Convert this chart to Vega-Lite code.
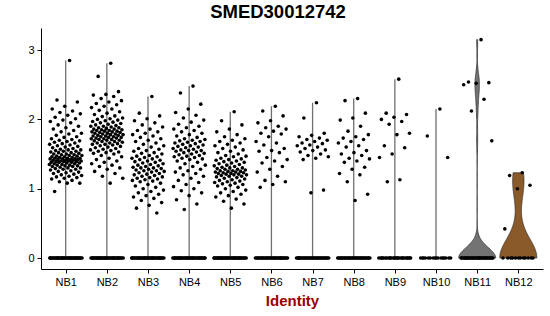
{
"$schema": "https://vega.github.io/schema/vega-lite/v6.json",
"width": 502, "height": 241,
"autosize": {"type": "none"},
"padding": {"left": 41, "top": 28, "right": 7, "bottom": 47},
"background": "white",
"title": {"text": "SMED30012742", "font": "Liberation Sans", "fontSize": 18.5, "fontWeight": "bold", "color": "black", "anchor": "middle", "dx": -14, "offset": 7},
"datasets": {"cells": [
{"g":"NB1","v":2.85},{"g":"NB1","v":2.28},{"g":"NB1","v":2.25},{"g":"NB1","v":2.19},{"g":"NB1","v":2.15},{"g":"NB1","v":2.12},{"g":"NB1","v":2.10},{"g":"NB1","v":2.08},{"g":"NB1","v":2.06},{"g":"NB1","v":2.03},{"g":"NB1","v":2.01},{"g":"NB1","v":1.99},{"g":"NB1","v":1.97},{"g":"NB1","v":1.95},{"g":"NB1","v":1.92},{"g":"NB1","v":1.90},{"g":"NB1","v":1.88},{"g":"NB1","v":1.86},{"g":"NB1","v":1.84},{"g":"NB1","v":1.82},{"g":"NB1","v":1.80},{"g":"NB1","v":1.79},{"g":"NB1","v":1.77},{"g":"NB1","v":1.75},{"g":"NB1","v":1.74},{"g":"NB1","v":1.72},{"g":"NB1","v":1.71},{"g":"NB1","v":1.70},{"g":"NB1","v":1.69},{"g":"NB1","v":1.68},{"g":"NB1","v":1.67},{"g":"NB1","v":1.66},{"g":"NB1","v":1.65},{"g":"NB1","v":1.64},{"g":"NB1","v":1.63},{"g":"NB1","v":1.62},{"g":"NB1","v":1.61},{"g":"NB1","v":1.60},{"g":"NB1","v":1.59},{"g":"NB1","v":1.58},{"g":"NB1","v":1.57},{"g":"NB1","v":1.56},{"g":"NB1","v":1.56},{"g":"NB1","v":1.55},{"g":"NB1","v":1.54},{"g":"NB1","v":1.54},{"g":"NB1","v":1.53},{"g":"NB1","v":1.52},{"g":"NB1","v":1.52},{"g":"NB1","v":1.51},{"g":"NB1","v":1.50},{"g":"NB1","v":1.50},{"g":"NB1","v":1.49},{"g":"NB1","v":1.49},{"g":"NB1","v":1.48},{"g":"NB1","v":1.48},{"g":"NB1","v":1.47},{"g":"NB1","v":1.47},{"g":"NB1","v":1.46},{"g":"NB1","v":1.46},{"g":"NB1","v":1.45},{"g":"NB1","v":1.45},{"g":"NB1","v":1.44},{"g":"NB1","v":1.44},{"g":"NB1","v":1.44},{"g":"NB1","v":1.43},{"g":"NB1","v":1.43},{"g":"NB1","v":1.43},{"g":"NB1","v":1.42},{"g":"NB1","v":1.42},{"g":"NB1","v":1.42},{"g":"NB1","v":1.41},{"g":"NB1","v":1.41},{"g":"NB1","v":1.41},{"g":"NB1","v":1.40},{"g":"NB1","v":1.40},{"g":"NB1","v":1.40},{"g":"NB1","v":1.39},{"g":"NB1","v":1.39},{"g":"NB1","v":1.39},{"g":"NB1","v":1.38},{"g":"NB1","v":1.38},{"g":"NB1","v":1.38},{"g":"NB1","v":1.37},{"g":"NB1","v":1.37},{"g":"NB1","v":1.36},{"g":"NB1","v":1.36},{"g":"NB1","v":1.35},{"g":"NB1","v":1.35},{"g":"NB1","v":1.34},{"g":"NB1","v":1.34},{"g":"NB1","v":1.33},{"g":"NB1","v":1.33},{"g":"NB1","v":1.32},{"g":"NB1","v":1.32},{"g":"NB1","v":1.31},{"g":"NB1","v":1.30},{"g":"NB1","v":1.30},{"g":"NB1","v":1.29},{"g":"NB1","v":1.28},{"g":"NB1","v":1.28},{"g":"NB1","v":1.27},{"g":"NB1","v":1.26},{"g":"NB1","v":1.25},{"g":"NB1","v":1.24},{"g":"NB1","v":1.23},{"g":"NB1","v":1.22},{"g":"NB1","v":1.21},{"g":"NB1","v":1.20},{"g":"NB1","v":1.19},{"g":"NB1","v":1.18},{"g":"NB1","v":1.17},{"g":"NB1","v":1.16},{"g":"NB1","v":1.15},{"g":"NB1","v":1.14},{"g":"NB1","v":1.12},{"g":"NB1","v":1.10},{"g":"NB1","v":1.08},{"g":"NB1","v":1.08},{"g":"NB1","v":0.96},
{"g":"NB1","v":0},{"g":"NB1","v":0},{"g":"NB1","v":0},{"g":"NB1","v":0},{"g":"NB1","v":0},{"g":"NB1","v":0},{"g":"NB1","v":0},{"g":"NB1","v":0},{"g":"NB1","v":0},{"g":"NB1","v":0},{"g":"NB1","v":0},{"g":"NB1","v":0},{"g":"NB1","v":0},{"g":"NB1","v":0},{"g":"NB1","v":0},{"g":"NB1","v":0},{"g":"NB1","v":0},{"g":"NB1","v":0},{"g":"NB1","v":0},{"g":"NB1","v":0},{"g":"NB1","v":0},{"g":"NB1","v":0},{"g":"NB1","v":0},{"g":"NB1","v":0},{"g":"NB1","v":0},{"g":"NB1","v":0},{"g":"NB1","v":0},{"g":"NB1","v":0},{"g":"NB1","v":0},{"g":"NB1","v":0},{"g":"NB1","v":0},{"g":"NB1","v":0},{"g":"NB1","v":0},{"g":"NB1","v":0},{"g":"NB1","v":0},{"g":"NB1","v":0},{"g":"NB1","v":0},{"g":"NB1","v":0},{"g":"NB1","v":0},{"g":"NB1","v":0},
{"g":"NB2","v":2.81},{"g":"NB2","v":2.62},{"g":"NB2","v":2.40},{"g":"NB2","v":2.36},{"g":"NB2","v":2.35},{"g":"NB2","v":2.33},{"g":"NB2","v":2.30},{"g":"NB2","v":2.27},{"g":"NB2","v":2.25},{"g":"NB2","v":2.23},{"g":"NB2","v":2.21},{"g":"NB2","v":2.19},{"g":"NB2","v":2.17},{"g":"NB2","v":2.15},{"g":"NB2","v":2.13},{"g":"NB2","v":2.11},{"g":"NB2","v":2.09},{"g":"NB2","v":2.07},{"g":"NB2","v":2.05},{"g":"NB2","v":2.04},{"g":"NB2","v":2.02},{"g":"NB2","v":2.01},{"g":"NB2","v":2.00},{"g":"NB2","v":1.99},{"g":"NB2","v":1.98},{"g":"NB2","v":1.97},{"g":"NB2","v":1.96},{"g":"NB2","v":1.95},{"g":"NB2","v":1.94},{"g":"NB2","v":1.93},{"g":"NB2","v":1.92},{"g":"NB2","v":1.91},{"g":"NB2","v":1.90},{"g":"NB2","v":1.90},{"g":"NB2","v":1.89},{"g":"NB2","v":1.88},{"g":"NB2","v":1.88},{"g":"NB2","v":1.87},{"g":"NB2","v":1.86},{"g":"NB2","v":1.86},{"g":"NB2","v":1.85},{"g":"NB2","v":1.85},{"g":"NB2","v":1.84},{"g":"NB2","v":1.84},{"g":"NB2","v":1.83},{"g":"NB2","v":1.83},{"g":"NB2","v":1.82},{"g":"NB2","v":1.82},{"g":"NB2","v":1.81},{"g":"NB2","v":1.81},{"g":"NB2","v":1.80},{"g":"NB2","v":1.80},{"g":"NB2","v":1.79},{"g":"NB2","v":1.79},{"g":"NB2","v":1.78},{"g":"NB2","v":1.78},{"g":"NB2","v":1.77},{"g":"NB2","v":1.77},{"g":"NB2","v":1.76},{"g":"NB2","v":1.76},{"g":"NB2","v":1.75},{"g":"NB2","v":1.75},{"g":"NB2","v":1.74},{"g":"NB2","v":1.74},{"g":"NB2","v":1.73},{"g":"NB2","v":1.73},{"g":"NB2","v":1.72},{"g":"NB2","v":1.72},{"g":"NB2","v":1.71},{"g":"NB2","v":1.71},{"g":"NB2","v":1.70},{"g":"NB2","v":1.70},{"g":"NB2","v":1.69},{"g":"NB2","v":1.68},{"g":"NB2","v":1.68},{"g":"NB2","v":1.67},{"g":"NB2","v":1.66},{"g":"NB2","v":1.66},{"g":"NB2","v":1.65},{"g":"NB2","v":1.64},{"g":"NB2","v":1.64},{"g":"NB2","v":1.63},{"g":"NB2","v":1.62},{"g":"NB2","v":1.61},{"g":"NB2","v":1.60},{"g":"NB2","v":1.59},{"g":"NB2","v":1.58},{"g":"NB2","v":1.57},{"g":"NB2","v":1.56},{"g":"NB2","v":1.55},{"g":"NB2","v":1.54},{"g":"NB2","v":1.53},{"g":"NB2","v":1.52},{"g":"NB2","v":1.51},{"g":"NB2","v":1.50},{"g":"NB2","v":1.48},{"g":"NB2","v":1.46},{"g":"NB2","v":1.44},{"g":"NB2","v":1.42},{"g":"NB2","v":1.40},{"g":"NB2","v":1.38},{"g":"NB2","v":1.36},{"g":"NB2","v":1.34},{"g":"NB2","v":1.32},{"g":"NB2","v":1.30},{"g":"NB2","v":1.28},{"g":"NB2","v":1.25},{"g":"NB2","v":1.22},{"g":"NB2","v":1.18},{"g":"NB2","v":1.15},{"g":"NB2","v":1.08},
{"g":"NB2","v":0},{"g":"NB2","v":0},{"g":"NB2","v":0},{"g":"NB2","v":0},{"g":"NB2","v":0},{"g":"NB2","v":0},{"g":"NB2","v":0},{"g":"NB2","v":0},{"g":"NB2","v":0},{"g":"NB2","v":0},{"g":"NB2","v":0},{"g":"NB2","v":0},{"g":"NB2","v":0},{"g":"NB2","v":0},{"g":"NB2","v":0},{"g":"NB2","v":0},{"g":"NB2","v":0},{"g":"NB2","v":0},{"g":"NB2","v":0},{"g":"NB2","v":0},{"g":"NB2","v":0},{"g":"NB2","v":0},{"g":"NB2","v":0},{"g":"NB2","v":0},{"g":"NB2","v":0},{"g":"NB2","v":0},{"g":"NB2","v":0},{"g":"NB2","v":0},{"g":"NB2","v":0},{"g":"NB2","v":0},{"g":"NB2","v":0},{"g":"NB2","v":0},{"g":"NB2","v":0},{"g":"NB2","v":0},{"g":"NB2","v":0},{"g":"NB2","v":0},{"g":"NB2","v":0},{"g":"NB2","v":0},{"g":"NB2","v":0},{"g":"NB2","v":0},
{"g":"NB3","v":2.33},{"g":"NB3","v":2.09},{"g":"NB3","v":2.05},{"g":"NB3","v":2.01},{"g":"NB3","v":1.98},{"g":"NB3","v":1.95},{"g":"NB3","v":1.92},{"g":"NB3","v":1.89},{"g":"NB3","v":1.86},{"g":"NB3","v":1.84},{"g":"NB3","v":1.82},{"g":"NB3","v":1.80},{"g":"NB3","v":1.78},{"g":"NB3","v":1.76},{"g":"NB3","v":1.74},{"g":"NB3","v":1.72},{"g":"NB3","v":1.70},{"g":"NB3","v":1.68},{"g":"NB3","v":1.66},{"g":"NB3","v":1.64},{"g":"NB3","v":1.62},{"g":"NB3","v":1.60},{"g":"NB3","v":1.58},{"g":"NB3","v":1.57},{"g":"NB3","v":1.55},{"g":"NB3","v":1.54},{"g":"NB3","v":1.52},{"g":"NB3","v":1.51},{"g":"NB3","v":1.50},{"g":"NB3","v":1.48},{"g":"NB3","v":1.47},{"g":"NB3","v":1.46},{"g":"NB3","v":1.45},{"g":"NB3","v":1.44},{"g":"NB3","v":1.43},{"g":"NB3","v":1.42},{"g":"NB3","v":1.41},{"g":"NB3","v":1.40},{"g":"NB3","v":1.39},{"g":"NB3","v":1.38},{"g":"NB3","v":1.37},{"g":"NB3","v":1.36},{"g":"NB3","v":1.35},{"g":"NB3","v":1.34},{"g":"NB3","v":1.33},{"g":"NB3","v":1.32},{"g":"NB3","v":1.31},{"g":"NB3","v":1.30},{"g":"NB3","v":1.30},{"g":"NB3","v":1.29},{"g":"NB3","v":1.28},{"g":"NB3","v":1.27},{"g":"NB3","v":1.26},{"g":"NB3","v":1.26},{"g":"NB3","v":1.25},{"g":"NB3","v":1.24},{"g":"NB3","v":1.23},{"g":"NB3","v":1.22},{"g":"NB3","v":1.21},{"g":"NB3","v":1.20},{"g":"NB3","v":1.19},{"g":"NB3","v":1.18},{"g":"NB3","v":1.17},{"g":"NB3","v":1.16},{"g":"NB3","v":1.15},{"g":"NB3","v":1.14},{"g":"NB3","v":1.13},{"g":"NB3","v":1.12},{"g":"NB3","v":1.11},{"g":"NB3","v":1.10},{"g":"NB3","v":1.08},{"g":"NB3","v":1.06},{"g":"NB3","v":1.04},{"g":"NB3","v":1.02},{"g":"NB3","v":1.00},{"g":"NB3","v":0.98},{"g":"NB3","v":0.96},{"g":"NB3","v":0.94},{"g":"NB3","v":0.92},{"g":"NB3","v":0.90},{"g":"NB3","v":0.88},{"g":"NB3","v":0.86},{"g":"NB3","v":0.83},{"g":"NB3","v":0.80},{"g":"NB3","v":0.76},{"g":"NB3","v":0.72},{"g":"NB3","v":0.65},
{"g":"NB3","v":0},{"g":"NB3","v":0},{"g":"NB3","v":0},{"g":"NB3","v":0},{"g":"NB3","v":0},{"g":"NB3","v":0},{"g":"NB3","v":0},{"g":"NB3","v":0},{"g":"NB3","v":0},{"g":"NB3","v":0},{"g":"NB3","v":0},{"g":"NB3","v":0},{"g":"NB3","v":0},{"g":"NB3","v":0},{"g":"NB3","v":0},{"g":"NB3","v":0},{"g":"NB3","v":0},{"g":"NB3","v":0},{"g":"NB3","v":0},{"g":"NB3","v":0},{"g":"NB3","v":0},{"g":"NB3","v":0},{"g":"NB3","v":0},{"g":"NB3","v":0},{"g":"NB3","v":0},{"g":"NB3","v":0},{"g":"NB3","v":0},{"g":"NB3","v":0},{"g":"NB3","v":0},{"g":"NB3","v":0},{"g":"NB3","v":0},{"g":"NB3","v":0},{"g":"NB3","v":0},{"g":"NB3","v":0},{"g":"NB3","v":0},{"g":"NB3","v":0},{"g":"NB3","v":0},{"g":"NB3","v":0},{"g":"NB3","v":0},{"g":"NB3","v":0},
{"g":"NB4","v":2.48},{"g":"NB4","v":2.38},{"g":"NB4","v":2.22},{"g":"NB4","v":2.15},{"g":"NB4","v":2.10},{"g":"NB4","v":2.06},{"g":"NB4","v":2.02},{"g":"NB4","v":1.99},{"g":"NB4","v":1.96},{"g":"NB4","v":1.93},{"g":"NB4","v":1.90},{"g":"NB4","v":1.88},{"g":"NB4","v":1.86},{"g":"NB4","v":1.84},{"g":"NB4","v":1.82},{"g":"NB4","v":1.80},{"g":"NB4","v":1.78},{"g":"NB4","v":1.76},{"g":"NB4","v":1.74},{"g":"NB4","v":1.72},{"g":"NB4","v":1.71},{"g":"NB4","v":1.70},{"g":"NB4","v":1.69},{"g":"NB4","v":1.68},{"g":"NB4","v":1.67},{"g":"NB4","v":1.66},{"g":"NB4","v":1.65},{"g":"NB4","v":1.64},{"g":"NB4","v":1.63},{"g":"NB4","v":1.62},{"g":"NB4","v":1.61},{"g":"NB4","v":1.60},{"g":"NB4","v":1.59},{"g":"NB4","v":1.58},{"g":"NB4","v":1.57},{"g":"NB4","v":1.56},{"g":"NB4","v":1.55},{"g":"NB4","v":1.55},{"g":"NB4","v":1.54},{"g":"NB4","v":1.53},{"g":"NB4","v":1.52},{"g":"NB4","v":1.51},{"g":"NB4","v":1.50},{"g":"NB4","v":1.49},{"g":"NB4","v":1.48},{"g":"NB4","v":1.47},{"g":"NB4","v":1.46},{"g":"NB4","v":1.45},{"g":"NB4","v":1.44},{"g":"NB4","v":1.43},{"g":"NB4","v":1.42},{"g":"NB4","v":1.40},{"g":"NB4","v":1.38},{"g":"NB4","v":1.36},{"g":"NB4","v":1.34},{"g":"NB4","v":1.32},{"g":"NB4","v":1.30},{"g":"NB4","v":1.28},{"g":"NB4","v":1.26},{"g":"NB4","v":1.24},{"g":"NB4","v":1.22},{"g":"NB4","v":1.20},{"g":"NB4","v":1.18},{"g":"NB4","v":1.15},{"g":"NB4","v":1.12},{"g":"NB4","v":1.09},{"g":"NB4","v":1.06},{"g":"NB4","v":1.03},{"g":"NB4","v":1.00},{"g":"NB4","v":0.97},{"g":"NB4","v":0.94},{"g":"NB4","v":0.90},{"g":"NB4","v":0.84},{"g":"NB4","v":0.78},{"g":"NB4","v":0.70},
{"g":"NB4","v":0},{"g":"NB4","v":0},{"g":"NB4","v":0},{"g":"NB4","v":0},{"g":"NB4","v":0},{"g":"NB4","v":0},{"g":"NB4","v":0},{"g":"NB4","v":0},{"g":"NB4","v":0},{"g":"NB4","v":0},{"g":"NB4","v":0},{"g":"NB4","v":0},{"g":"NB4","v":0},{"g":"NB4","v":0},{"g":"NB4","v":0},{"g":"NB4","v":0},{"g":"NB4","v":0},{"g":"NB4","v":0},{"g":"NB4","v":0},{"g":"NB4","v":0},{"g":"NB4","v":0},{"g":"NB4","v":0},{"g":"NB4","v":0},{"g":"NB4","v":0},{"g":"NB4","v":0},{"g":"NB4","v":0},{"g":"NB4","v":0},{"g":"NB4","v":0},{"g":"NB4","v":0},{"g":"NB4","v":0},{"g":"NB4","v":0},{"g":"NB4","v":0},{"g":"NB4","v":0},{"g":"NB4","v":0},{"g":"NB4","v":0},{"g":"NB4","v":0},{"g":"NB4","v":0},{"g":"NB4","v":0},{"g":"NB4","v":0},{"g":"NB4","v":0},
{"g":"NB5","v":2.11},{"g":"NB5","v":1.98},{"g":"NB5","v":1.92},{"g":"NB5","v":1.86},{"g":"NB5","v":1.82},{"g":"NB5","v":1.78},{"g":"NB5","v":1.75},{"g":"NB5","v":1.72},{"g":"NB5","v":1.70},{"g":"NB5","v":1.68},{"g":"NB5","v":1.66},{"g":"NB5","v":1.64},{"g":"NB5","v":1.62},{"g":"NB5","v":1.60},{"g":"NB5","v":1.58},{"g":"NB5","v":1.56},{"g":"NB5","v":1.54},{"g":"NB5","v":1.52},{"g":"NB5","v":1.50},{"g":"NB5","v":1.48},{"g":"NB5","v":1.47},{"g":"NB5","v":1.46},{"g":"NB5","v":1.44},{"g":"NB5","v":1.43},{"g":"NB5","v":1.42},{"g":"NB5","v":1.41},{"g":"NB5","v":1.40},{"g":"NB5","v":1.39},{"g":"NB5","v":1.38},{"g":"NB5","v":1.37},{"g":"NB5","v":1.36},{"g":"NB5","v":1.35},{"g":"NB5","v":1.34},{"g":"NB5","v":1.33},{"g":"NB5","v":1.32},{"g":"NB5","v":1.31},{"g":"NB5","v":1.30},{"g":"NB5","v":1.30},{"g":"NB5","v":1.29},{"g":"NB5","v":1.28},{"g":"NB5","v":1.28},{"g":"NB5","v":1.27},{"g":"NB5","v":1.26},{"g":"NB5","v":1.26},{"g":"NB5","v":1.25},{"g":"NB5","v":1.25},{"g":"NB5","v":1.24},{"g":"NB5","v":1.24},{"g":"NB5","v":1.23},{"g":"NB5","v":1.23},{"g":"NB5","v":1.22},{"g":"NB5","v":1.22},{"g":"NB5","v":1.21},{"g":"NB5","v":1.21},{"g":"NB5","v":1.20},{"g":"NB5","v":1.20},{"g":"NB5","v":1.19},{"g":"NB5","v":1.18},{"g":"NB5","v":1.18},{"g":"NB5","v":1.17},{"g":"NB5","v":1.16},{"g":"NB5","v":1.15},{"g":"NB5","v":1.14},{"g":"NB5","v":1.13},{"g":"NB5","v":1.12},{"g":"NB5","v":1.11},{"g":"NB5","v":1.10},{"g":"NB5","v":1.09},{"g":"NB5","v":1.08},{"g":"NB5","v":1.07},{"g":"NB5","v":1.06},{"g":"NB5","v":1.05},{"g":"NB5","v":1.04},{"g":"NB5","v":1.02},{"g":"NB5","v":1.00},{"g":"NB5","v":0.98},{"g":"NB5","v":0.96},{"g":"NB5","v":0.94},{"g":"NB5","v":0.92},{"g":"NB5","v":0.90},{"g":"NB5","v":0.88},{"g":"NB5","v":0.85},{"g":"NB5","v":0.82},{"g":"NB5","v":0.78},{"g":"NB5","v":0.72},
{"g":"NB5","v":0},{"g":"NB5","v":0},{"g":"NB5","v":0},{"g":"NB5","v":0},{"g":"NB5","v":0},{"g":"NB5","v":0},{"g":"NB5","v":0},{"g":"NB5","v":0},{"g":"NB5","v":0},{"g":"NB5","v":0},{"g":"NB5","v":0},{"g":"NB5","v":0},{"g":"NB5","v":0},{"g":"NB5","v":0},{"g":"NB5","v":0},{"g":"NB5","v":0},{"g":"NB5","v":0},{"g":"NB5","v":0},{"g":"NB5","v":0},{"g":"NB5","v":0},{"g":"NB5","v":0},{"g":"NB5","v":0},{"g":"NB5","v":0},{"g":"NB5","v":0},{"g":"NB5","v":0},{"g":"NB5","v":0},{"g":"NB5","v":0},{"g":"NB5","v":0},{"g":"NB5","v":0},{"g":"NB5","v":0},{"g":"NB5","v":0},{"g":"NB5","v":0},{"g":"NB5","v":0},{"g":"NB5","v":0},{"g":"NB5","v":0},{"g":"NB5","v":0},{"g":"NB5","v":0},{"g":"NB5","v":0},{"g":"NB5","v":0},{"g":"NB5","v":0},
{"g":"NB6","v":2.19},{"g":"NB6","v":2.12},{"g":"NB6","v":2.05},{"g":"NB6","v":1.98},{"g":"NB6","v":1.95},{"g":"NB6","v":1.90},{"g":"NB6","v":1.88},{"g":"NB6","v":1.86},{"g":"NB6","v":1.83},{"g":"NB6","v":1.80},{"g":"NB6","v":1.79},{"g":"NB6","v":1.75},{"g":"NB6","v":1.68},{"g":"NB6","v":1.66},{"g":"NB6","v":1.63},{"g":"NB6","v":1.58},{"g":"NB6","v":1.55},{"g":"NB6","v":1.54},{"g":"NB6","v":1.52},{"g":"NB6","v":1.45},{"g":"NB6","v":1.42},{"g":"NB6","v":1.40},{"g":"NB6","v":1.37},{"g":"NB6","v":1.32},{"g":"NB6","v":1.28},{"g":"NB6","v":1.24},{"g":"NB6","v":1.18},{"g":"NB6","v":1.12},{"g":"NB6","v":1.10},{"g":"NB6","v":1.06},{"g":"NB6","v":1.02},
{"g":"NB6","v":0},{"g":"NB6","v":0},{"g":"NB6","v":0},{"g":"NB6","v":0},{"g":"NB6","v":0},{"g":"NB6","v":0},{"g":"NB6","v":0},{"g":"NB6","v":0},{"g":"NB6","v":0},{"g":"NB6","v":0},{"g":"NB6","v":0},{"g":"NB6","v":0},{"g":"NB6","v":0},{"g":"NB6","v":0},{"g":"NB6","v":0},{"g":"NB6","v":0},{"g":"NB6","v":0},{"g":"NB6","v":0},{"g":"NB6","v":0},{"g":"NB6","v":0},{"g":"NB6","v":0},{"g":"NB6","v":0},{"g":"NB6","v":0},{"g":"NB6","v":0},{"g":"NB6","v":0},{"g":"NB6","v":0},{"g":"NB6","v":0},{"g":"NB6","v":0},{"g":"NB6","v":0},{"g":"NB6","v":0},{"g":"NB6","v":0},{"g":"NB6","v":0},{"g":"NB6","v":0},{"g":"NB6","v":0},{"g":"NB6","v":0},
{"g":"NB7","v":2.24},{"g":"NB7","v":2.02},{"g":"NB7","v":1.80},{"g":"NB7","v":1.77},{"g":"NB7","v":1.75},{"g":"NB7","v":1.73},{"g":"NB7","v":1.71},{"g":"NB7","v":1.70},{"g":"NB7","v":1.68},{"g":"NB7","v":1.66},{"g":"NB7","v":1.65},{"g":"NB7","v":1.63},{"g":"NB7","v":1.62},{"g":"NB7","v":1.60},{"g":"NB7","v":1.58},{"g":"NB7","v":1.56},{"g":"NB7","v":1.55},{"g":"NB7","v":1.53},{"g":"NB7","v":1.50},{"g":"NB7","v":1.48},{"g":"NB7","v":1.46},{"g":"NB7","v":1.44},{"g":"NB7","v":1.42},{"g":"NB7","v":0.98},{"g":"NB7","v":0.94},
{"g":"NB7","v":0},{"g":"NB7","v":0},{"g":"NB7","v":0},{"g":"NB7","v":0},{"g":"NB7","v":0},{"g":"NB7","v":0},{"g":"NB7","v":0},{"g":"NB7","v":0},{"g":"NB7","v":0},{"g":"NB7","v":0},{"g":"NB7","v":0},{"g":"NB7","v":0},{"g":"NB7","v":0},{"g":"NB7","v":0},{"g":"NB7","v":0},{"g":"NB7","v":0},{"g":"NB7","v":0},{"g":"NB7","v":0},{"g":"NB7","v":0},{"g":"NB7","v":0},{"g":"NB7","v":0},{"g":"NB7","v":0},{"g":"NB7","v":0},{"g":"NB7","v":0},{"g":"NB7","v":0},{"g":"NB7","v":0},{"g":"NB7","v":0},{"g":"NB7","v":0},{"g":"NB7","v":0},{"g":"NB7","v":0},{"g":"NB7","v":0},{"g":"NB7","v":0},{"g":"NB7","v":0},{"g":"NB7","v":0},{"g":"NB7","v":0},
{"g":"NB8","v":2.30},{"g":"NB8","v":2.27},{"g":"NB8","v":2.09},{"g":"NB8","v":2.02},{"g":"NB8","v":1.99},{"g":"NB8","v":1.90},{"g":"NB8","v":1.83},{"g":"NB8","v":1.78},{"g":"NB8","v":1.75},{"g":"NB8","v":1.73},{"g":"NB8","v":1.71},{"g":"NB8","v":1.68},{"g":"NB8","v":1.66},{"g":"NB8","v":1.62},{"g":"NB8","v":1.60},{"g":"NB8","v":1.55},{"g":"NB8","v":1.52},{"g":"NB8","v":1.50},{"g":"NB8","v":1.48},{"g":"NB8","v":1.44},{"g":"NB8","v":1.43},{"g":"NB8","v":1.40},{"g":"NB8","v":1.38},{"g":"NB8","v":1.31},{"g":"NB8","v":1.28},{"g":"NB8","v":1.22},{"g":"NB8","v":1.20},{"g":"NB8","v":1.10},{"g":"NB8","v":0.92},{"g":"NB8","v":0.83},
{"g":"NB8","v":0},{"g":"NB8","v":0},{"g":"NB8","v":0},{"g":"NB8","v":0},{"g":"NB8","v":0},{"g":"NB8","v":0},{"g":"NB8","v":0},{"g":"NB8","v":0},{"g":"NB8","v":0},{"g":"NB8","v":0},{"g":"NB8","v":0},{"g":"NB8","v":0},{"g":"NB8","v":0},{"g":"NB8","v":0},{"g":"NB8","v":0},{"g":"NB8","v":0},{"g":"NB8","v":0},{"g":"NB8","v":0},{"g":"NB8","v":0},{"g":"NB8","v":0},{"g":"NB8","v":0},{"g":"NB8","v":0},{"g":"NB8","v":0},{"g":"NB8","v":0},{"g":"NB8","v":0},{"g":"NB8","v":0},{"g":"NB8","v":0},{"g":"NB8","v":0},{"g":"NB8","v":0},{"g":"NB8","v":0},{"g":"NB8","v":0},{"g":"NB8","v":0},{"g":"NB8","v":0},{"g":"NB8","v":0},
{"g":"NB9","v":2.58},{"g":"NB9","v":2.09},{"g":"NB9","v":2.07},{"g":"NB9","v":2.03},{"g":"NB9","v":2.00},{"g":"NB9","v":1.97},{"g":"NB9","v":1.93},{"g":"NB9","v":1.80},{"g":"NB9","v":1.78},{"g":"NB9","v":1.62},{"g":"NB9","v":1.59},{"g":"NB9","v":1.50},{"g":"NB9","v":1.45},{"g":"NB9","v":1.13},{"g":"NB9","v":1.10},
{"g":"NB9","v":0},{"g":"NB9","v":0},{"g":"NB9","v":0},{"g":"NB9","v":0},{"g":"NB9","v":0},{"g":"NB9","v":0},{"g":"NB9","v":0},{"g":"NB9","v":0},{"g":"NB9","v":0},{"g":"NB9","v":0},{"g":"NB9","v":0},{"g":"NB9","v":0},{"g":"NB9","v":0},{"g":"NB9","v":0},{"g":"NB9","v":0},{"g":"NB9","v":0},{"g":"NB9","v":0},{"g":"NB9","v":0},{"g":"NB9","v":0},{"g":"NB9","v":0},{"g":"NB9","v":0},{"g":"NB9","v":0},{"g":"NB9","v":0},{"g":"NB9","v":0},{"g":"NB9","v":0},{"g":"NB9","v":0},{"g":"NB9","v":0},{"g":"NB9","v":0},
{"g":"NB10","v":2.15},{"g":"NB10","v":1.76},{"g":"NB10","v":1.45},
{"g":"NB10","v":0},{"g":"NB10","v":0},{"g":"NB10","v":0},{"g":"NB10","v":0},{"g":"NB10","v":0},{"g":"NB10","v":0},{"g":"NB10","v":0},{"g":"NB10","v":0},{"g":"NB10","v":0},{"g":"NB10","v":0},{"g":"NB10","v":0},{"g":"NB10","v":0},{"g":"NB10","v":0},{"g":"NB10","v":0},{"g":"NB10","v":0},{"g":"NB10","v":0},
{"g":"NB11","v":3.15},{"g":"NB11","v":2.54},{"g":"NB11","v":2.53},{"g":"NB11","v":2.52},{"g":"NB11","v":2.50},{"g":"NB11","v":2.29},{"g":"NB11","v":2.12},{"g":"NB11","v":1.69},
{"g":"NB11","v":0},{"g":"NB11","v":0},{"g":"NB11","v":0},{"g":"NB11","v":0},{"g":"NB11","v":0},{"g":"NB11","v":0},{"g":"NB11","v":0},{"g":"NB11","v":0},{"g":"NB11","v":0},{"g":"NB11","v":0},{"g":"NB11","v":0},{"g":"NB11","v":0},{"g":"NB11","v":0},{"g":"NB11","v":0},{"g":"NB11","v":0},{"g":"NB11","v":0},{"g":"NB11","v":0},{"g":"NB11","v":0},{"g":"NB11","v":0},{"g":"NB11","v":0},{"g":"NB11","v":0},{"g":"NB11","v":0},{"g":"NB11","v":0},{"g":"NB11","v":0},{"g":"NB11","v":0},{"g":"NB11","v":0},{"g":"NB11","v":0},{"g":"NB11","v":0},{"g":"NB11","v":0},{"g":"NB11","v":0},{"g":"NB11","v":0},{"g":"NB11","v":0},{"g":"NB11","v":0},{"g":"NB11","v":0},{"g":"NB11","v":0},{"g":"NB11","v":0},
{"g":"NB12","v":1.23},{"g":"NB12","v":1.19},{"g":"NB12","v":1.05},{"g":"NB12","v":1.00},{"g":"NB12","v":0.42},
{"g":"NB12","v":0},{"g":"NB12","v":0},{"g":"NB12","v":0},{"g":"NB12","v":0},{"g":"NB12","v":0},{"g":"NB12","v":0},{"g":"NB12","v":0},{"g":"NB12","v":0},{"g":"NB12","v":0},{"g":"NB12","v":0},{"g":"NB12","v":0},{"g":"NB12","v":0}
]},
"data": {"name": "cells"},
"transform": [{"calculate": "toNumber(slice(datum.g, 2))", "as": "idx"}],
"encoding": {
  "y": {"type": "quantitative", "scale": {"domain": [-0.158, 3.318], "nice": false, "zero": false}, "axis": {"title": null, "values": [0, 1, 2, 3]}}
},
"layer": [
  {
    "transform": [{"filter": "datum.idx <= 10"}, {"aggregate": [{"op": "min", "field": "v", "as": "lo"}, {"op": "max", "field": "v", "as": "hi"}], "groupby": ["g", "idx"]}],
    "mark": {"type": "rule", "color": "#707070", "strokeWidth": 1.3},
    "encoding": {
      "x": {"field": "idx", "type": "quantitative", "scale": {"domain": [0.4, 12.6], "nice": false, "zero": false}, "title": "Identity"},
      "y": {"field": "lo"},
      "y2": {"field": "hi"}
    }
  },
  {
    "transform": [{"filter": "datum.g == 'NB11'"}, {"density": "v", "groupby": ["g", "idx"], "bandwidth": 0.15, "extent": [0, 3.15], "steps": 200, "as": ["v", "d"]}, {"joinaggregate": [{"op": "max", "field": "d", "as": "dm"}], "groupby": ["g"]}, {"calculate": "datum.idx - 0.45 * datum.d / datum.dm", "as": "xa"}, {"calculate": "datum.idx + 0.45 * datum.d / datum.dm", "as": "xb"}],
    "mark": {"type": "area", "orient": "horizontal", "fill": "#737373", "stroke": "#2a2a2a", "strokeWidth": 0.7},
    "encoding": {
      "x": {"field": "xa", "type": "quantitative", "scale": {"domain": [0.4, 12.6], "nice": false, "zero": false}, "title": "Identity"},
      "x2": {"field": "xb"},
      "y": {"field": "v"}
    }
  },
  {
    "transform": [{"filter": "datum.g == 'NB12'"}, {"density": "v", "groupby": ["g", "idx"], "bandwidth": 0.26, "extent": [0, 1.23], "steps": 200, "as": ["v", "d"]}, {"joinaggregate": [{"op": "max", "field": "d", "as": "dm"}], "groupby": ["g"]}, {"calculate": "datum.idx - 0.45 * datum.d / datum.dm", "as": "xa"}, {"calculate": "datum.idx + 0.45 * datum.d / datum.dm", "as": "xb"}],
    "mark": {"type": "area", "orient": "horizontal", "fill": "#8B5A2B", "stroke": "#2a2a2a", "strokeWidth": 0.7},
    "encoding": {
      "x": {"field": "xa", "type": "quantitative", "scale": {"domain": [0.4, 12.6], "nice": false, "zero": false}, "title": "Identity"},
      "x2": {"field": "xb"},
      "y": {"field": "v"}
    }
  },
  {
    "transform": [{"window": [{"op": "row_number", "as": "r"}], "groupby": ["g"], "sort": [{"field": "v", "order": "descending"}]}, {"calculate": "datum.idx + ((datum.r * 0.6180339887 - floor(datum.r * 0.6180339887)) - 0.5) * 0.8", "as": "xj"}],
    "mark": {"type": "circle", "size": 13, "color": "black", "opacity": 1},
    "encoding": {
      "x": {"field": "xj", "type": "quantitative", "scale": {"domain": [0.4, 12.6], "nice": false, "zero": false}, "title": "Identity"},
      "y": {"field": "v"}
    }
  }
],
"config": {
  "view": {"stroke": null},
  "axis": {"grid": false, "domainColor": "black", "domainWidth": 1, "tickColor": "black", "tickSize": 4, "labelColor": "black", "labelFont": "Liberation Sans", "labelFontSize": 11, "labelPadding": 3},
  "axisX": {"values": [1, 2, 3, 4, 5, 6, 7, 8, 9, 10, 11, 12], "labelExpr": "'NB' + datum.value", "titleFont": "Liberation Sans", "titleFontWeight": "bold", "titleColor": "#990000", "titleFontSize": 15, "titlePadding": 6}
}
}
